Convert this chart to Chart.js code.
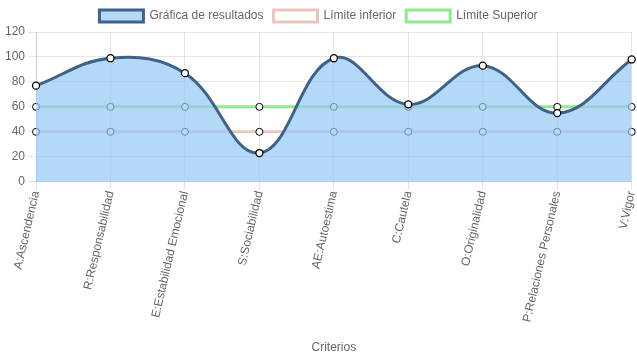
<!DOCTYPE html>
<html>
<head>
<meta charset="utf-8">
<script src="https://cdn.jsdelivr.net/npm/chart.js@4.4.1/dist/chart.umd.min.js"></script>
<style>
  html, body { margin: 0; padding: 0; background: #fff; }
  #wrap { width: 637px; height: 359px; }
</style>
</head>
<body>
<div id="wrap"><canvas id="resultChart"></canvas></div>
<script>
// datos
const criterios = ['A:Ascendencia', 'R:Responsabilidad', 'E:Estabilidad Emocional', 'S:Sociabilidad',
    'AE:Autoestima', 'C:Cautela', 'O:Originalidad', 'P:Relaciones Personales', 'V:Vigor'];
const resultados = [77, 99, 87, 23, 99, 62, 93, 55, 98];
const limiteInferior = [40, 40, 40, 40, 40, 40, 40, 40, 40];
const limiteSuperior = [60, 60, 60, 60, 60, 60, 60, 60, 60];

Chart.defaults.font.family = '"Liberation Sans", Arial, sans-serif';
Chart.defaults.font.size = 12;
Chart.defaults.color = '#666';

const ctx = document.getElementById('resultChart').getContext('2d');
const resultChart = new Chart(ctx, {
    type: 'line',
    data: {
        labels: criterios,
        datasets: [{
            label: 'Gráfica de resultados',
            data: resultados,
            backgroundColor: 'rgba(151,200,245,0.7)',
            borderColor: 'rgb(62,98,137)',
            borderWidth: 3,
            fill: true,
            tension: 0.4,
            pointRadius: 3.5,
            pointBackgroundColor: '#fff',
            pointBorderColor: '#000',
            pointBorderWidth: 1.3
        }, {
            label: 'Límite inferior',
            data: limiteInferior,
            backgroundColor: '#fff',
            borderColor: 'rgb(232,200,188)',
            borderWidth: 3,
            fill: false,
            pointRadius: 3.5,
            pointBackgroundColor: '#fff',
            pointBorderColor: '#000',
            pointBorderWidth: 1
        }, {
            label: 'Límite Superior',
            data: limiteSuperior,
            backgroundColor: '#fff',
            borderColor: 'rgb(144,232,144)',
            borderWidth: 3,
            fill: false,
            pointRadius: 3.5,
            pointBackgroundColor: '#fff',
            pointBorderColor: '#000',
            pointBorderWidth: 1
        }]
    },
    options: {
        responsive: true,
        maintainAspectRatio: false,
        animation: false,
        layout: {
            padding: { left: 2, right: 2, bottom: 4 }
        },
        plugins: {
            legend: {
                display: true,
                position: 'top',
                labels: {
                    boxWidth: 44,
                    boxHeight: 12
                }
            },
            tooltip: { enabled: false }
        },
        scales: {
            x: {
                grid: { color: 'rgba(0,0,0,0.1)' },
                ticks: { minRotation: 77, maxRotation: 77, autoSkip: false, padding: 0 },
                title: { display: true, text: 'Criterios', padding: { top: 2, bottom: 0 } },
                afterFit: (scale) => {
                    // la ultima etiqueta no debe recortar el area
                    scale.paddingRight = 0;
                    scale.height += 15;
                }
            },
            y: {
                min: 0,
                max: 120,
                grid: { color: 'rgba(0,0,0,0.1)' },
                ticks: { stepSize: 20 }
            }
        }
    }
});
</script>
</body>
</html>
